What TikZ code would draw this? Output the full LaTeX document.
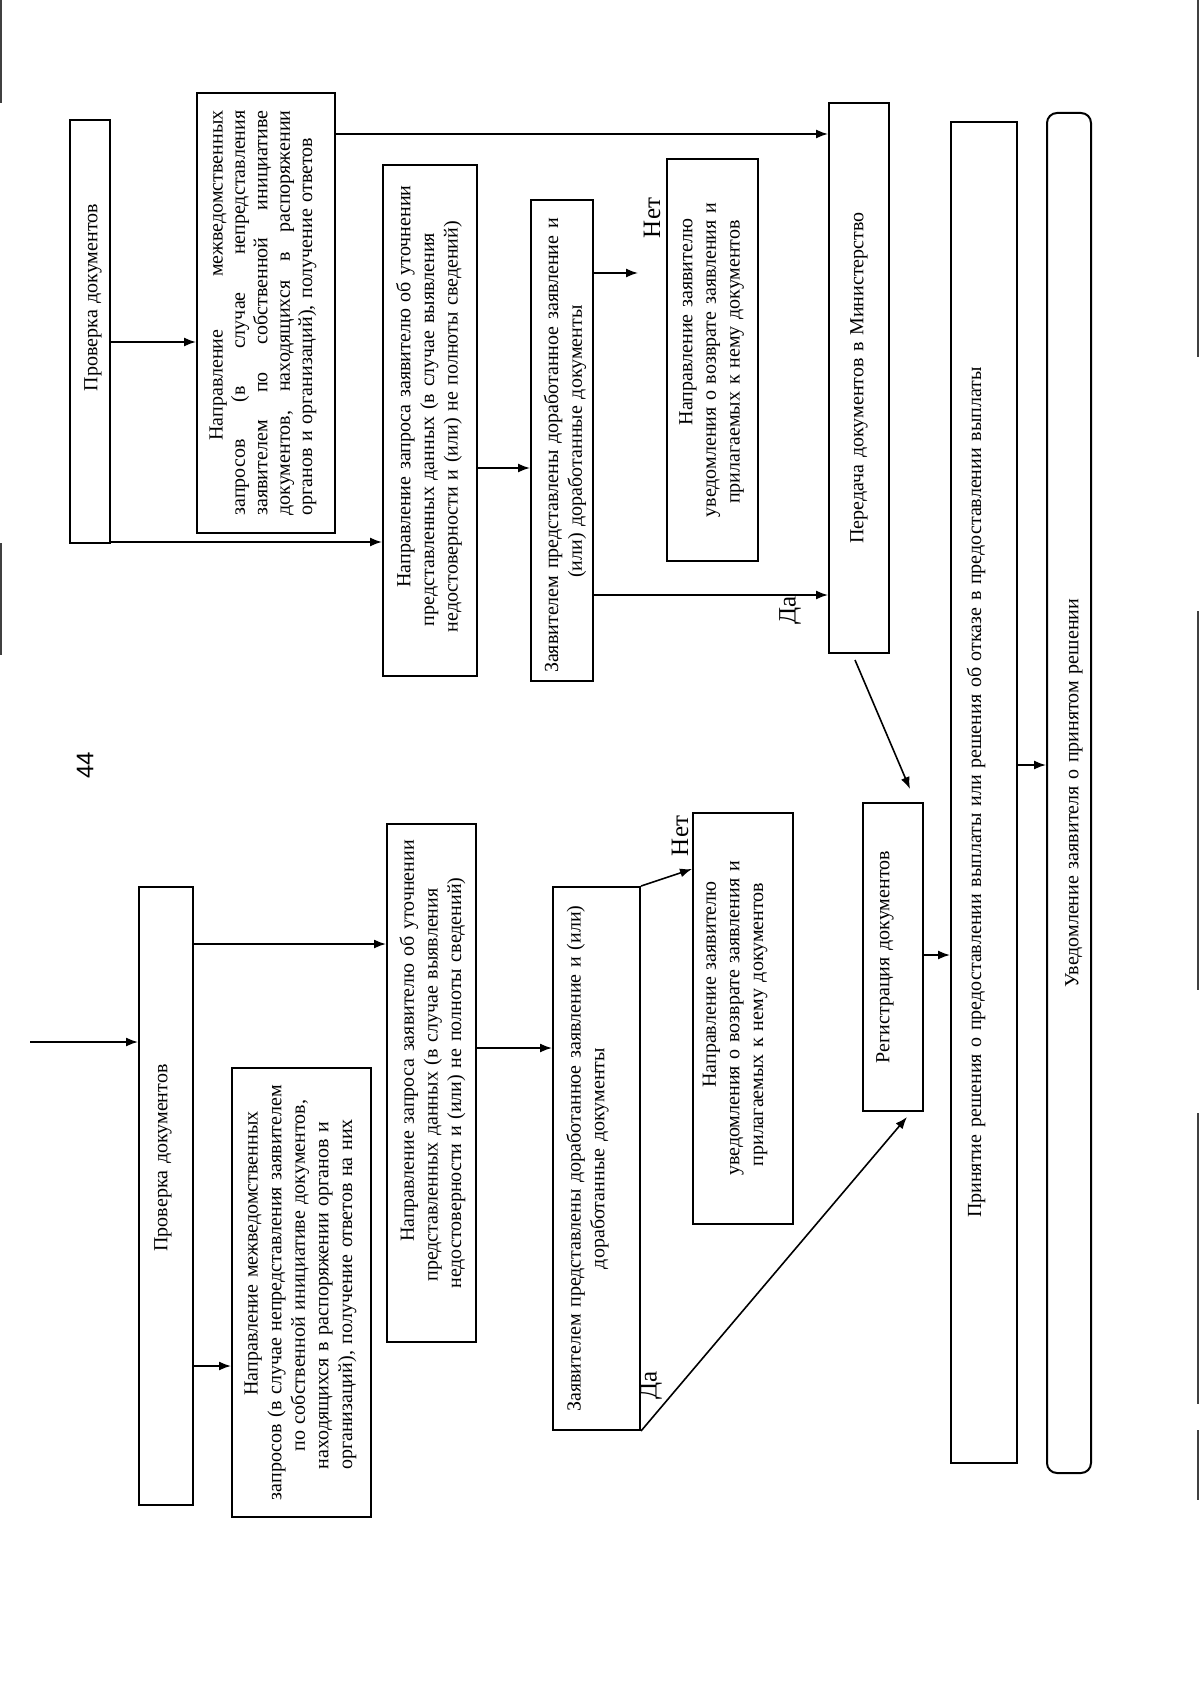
\documentclass[tikz,border=0pt]{standalone}
\usepackage{fontspec}
\setmainfont{Liberation Serif}
\newfontfamily\pgnumfont{Liberation Sans}
\usetikzlibrary{arrows.meta,calc}
\newlength\Lw
\newcommand\Ln[2]{\makebox[\Lw]{\hspace*{#1pt}#2}}
\newcommand\Jl[2][s]{\makebox[\Lw]{\makebox[202.5pt][#1]{#2}}}
% name, x1, y1, x2, y2, text x-shift, options, text
\newcommand\RB[8]{%
  \pgfmathsetlength\Lw{(#5-#3)*0.5pt}%
  \node[boxshape,#7,minimum width=\Lw,minimum height={(#4-#2)*0.5pt}] (#1) at ({(#2+#4)/2},{(#3+#5)/2}) {};
  \node[boxtext,#7,text width=\Lw] (#1t) at ({(#2+#4)/2+#6},{(#3+#5)/2}) {#8};}
\tikzset{
  boxshape/.style={draw, line width=1pt, rotate=90, inner sep=0pt, rectangle},
  boxtext/.style={rotate=90, inner sep=0pt, align=center, font=\fontsize{10}{11.8}\selectfont},
  lbl/.style={rotate=90, inner sep=0pt, font=\fontsize{12.5}{14}\selectfont},
  arr/.style={line width=0.8pt, -{Latex[length=6pt,width=4.5pt]}},
  rbox/.style={rounded corners=5pt},
  scanedge/.style={line width=1.2pt, black!75}
}
\begin{document}
\begin{tikzpicture}[x=0.5pt,y=-0.5pt]
\useasboundingbox (0,0) rectangle (1200,1695);
\fill[white] (0,0) rectangle (1200,1695);

% scan edges
\draw[scanedge] (1,0) -- (1,103);
\draw[scanedge] (1,543) -- (1,655);
\draw[scanedge] (1198,0) -- (1198,357);
\draw[scanedge] (1198,611) -- (1198,990);
\draw[scanedge] (1198,1113) -- (1198,1404);
\draw[scanedge] (1198,1430) -- (1198,1500);

% ---------- upper block ----------
\RB{pr1}{70}{120}{110}{543}{3}{}{\Ln{34}{Проверка документов}}
\RB{mz1}{197}{93}{335}{533}{-3}{font=\fontsize{10}{11.2}\selectfont}{%
\Jl{\hspace*{37.5pt}Направление\hfill межведомственных}\\
\Jl{запросов\hfill (в\hfill случае\hfill непредставления}\\
\Jl{заявителем\hfill по\hfill собственной\hfill инициативе}\\
\Jl{документов,\hfill находящихся\hfill в\hfill распоряжении}\\
\Jl[l]{органов и организаций), получение ответов}}
\RB{nz1}{383}{165}{477}{676}{-1}{}{%
\Ln{34}{Направление запроса заявителю об уточнении}\\
\Ln{-9}{представленных данных (в случае выявления}\\
\Ln{-6}{недостоверности и (или) не полноты сведений)}}
\RB{zv1}{531}{200}{593}{681}{3}{}{%
\Ln{-5}{Заявителем представлены доработанное заявление и}\\
\Ln{-1}{(или) доработанные документы}}
\RB{nzv1}{667}{159}{758}{561}{-1}{}{%
\Ln{38}{Направление заявителю}\\
\Ln{0}{уведомления о возврате заявления и}\\
\Ln{-2}{прилагаемых к нему документов}}
\RB{per}{829}{103}{889}{653}{0}{}{\Ln{0}{Передача документов в Министерство}}
\RB{prin}{951}{122}{1017}{1463}{-8}{}{\Ln{0}{Принятие решения о предоставлении выплаты или решения об отказе в предоставлении выплаты}}
\RB{uv}{1047}{113}{1091}{1473}{5}{rbox}{\Ln{0}{Уведомление заявителя о принятом решении}}

% ---------- lower block ----------
\RB{pr2}{139}{887}{193}{1505}{-3}{}{\Ln{38}{Проверка документов}}
\RB{mz2}{232}{1068}{371}{1517}{-1}{}{%
\Ln{39}{Направление межведомственных}\\
\Ln{0}{запросов (в случае непредставления заявителем}\\
\Ln{17}{по собственной инициативе документов,}\\
\Ln{-3}{находящихся в распоряжении органов и}\\
\Ln{-2}{организаций), получение ответов на них}}
\RB{nz2}{387}{824}{476}{1342}{1}{}{%
\Ln{42}{Направление запроса заявителю об уточнении}\\
\Ln{-2}{представленных данных (в случае выявления}\\
\Ln{0}{недостоверности и (или) не полноты сведений)}}
\RB{zv2}{553}{887}{640}{1430}{-9}{}{%
\Ln{0}{Заявителем представлены доработанное заявление и (или)}\\
\Ln{0}{доработанные документы}}
\RB{nzv2}{693}{813}{793}{1224}{-8}{}{%
\Ln{34}{Направление заявителю}\\
\Ln{0}{уведомления о возврате заявления и}\\
\Ln{-6}{прилагаемых к нему документов}}
\RB{reg}{863}{803}{923}{1111}{-8}{}{\Ln{0}{Регистрация документов}}

% ---------- labels ----------
\node[lbl] (net1) at (652,218) {Нет};
\node[lbl] (da1) at (790,610) {Да};
\node[lbl] (net2) at (680,836) {Нет};
\node[lbl] (da2) at (651,1385) {Да};
\node[rotate=90, inner sep=0pt, font=\pgnumfont\fontsize{12}{14}\selectfont] (pnum) at (85,765) {44};

% ---------- connectors: upper ----------
\draw[arr] (pr1.south |- 0,342) -- (mz1.north |- 0,342);
\draw[arr] (pr1.south |- 0,542) -- (nz1.north |- 0,542);
\draw[arr] (mz1.south |- 0,134) -- (per.north |- 0,134);
\draw[arr] (nz1.south |- 0,468) -- (zv1.north |- 0,468);
\coordinate (netend1) at (638,273);
\draw[arr] (zv1.south |- netend1) -- (netend1);
\draw[arr] (zv1.south |- 0,595) -- (per.north |- 0,595);
\draw[arr] ($(per.west)+(-4,6)$) -- ($(reg.east)+(17,-13)$);

% ---------- connectors: lower ----------
\coordinate (entry) at (30,1042);
\draw[arr] (entry) -- (pr2.north |- entry);
\draw[arr] (pr2.south |- 0,944) -- (nz2.north |- 0,944);
\draw[arr] (pr2.south |- 0,1366) -- (mz2.north |- 0,1366);
\draw[arr] (nz2.south |- 0,1048) -- (zv2.north |- 0,1048);
\draw[arr] (zv2.south east) -- (nzv2.north |- 0,869);
\draw[arr] (zv2.south west) -- ($(reg.west)+(14,5)$);
\draw[arr] (reg.south |- 0,955) -- (prin.north |- 0,955);
\draw[arr] (prin.south |- 0,765) -- (uv.north |- 0,765);
\end{tikzpicture}
\end{document}
